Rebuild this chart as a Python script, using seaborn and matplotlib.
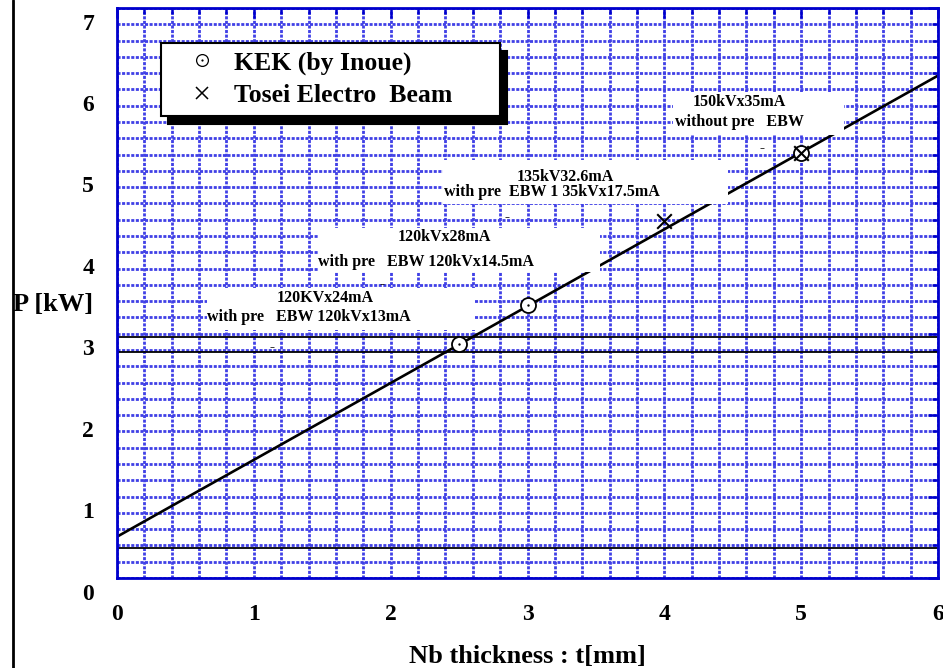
import matplotlib
matplotlib.use("Agg")
import matplotlib.pyplot as plt
import seaborn as sns
import numpy as np
import pandas as pd
from matplotlib.lines import Line2D
from matplotlib.patches import Rectangle
from matplotlib.transforms import ScaledTranslation
from matplotlib.ticker import MultipleLocator, FixedLocator
from matplotlib.legend_handler import HandlerTuple

# ---------------- data ----------------
kek_t = [2.5, 3.0, 5.0]
kek_p = [2.87, 3.35, 5.22]
tosei_t = [4.0, 5.0]
tosei_p = [4.39, 5.22]
fit_t = [0.0, 6.0]
fit_p = [0.507, 6.17]
ref_levels = [0.37, 2.78, 2.96]
x_ticks = [0, 1, 2, 3, 4, 5, 6]
y_ticks = [0, 1, 2, 3, 4, 5, 6, 7]
series_labels = ["KEK (by Inoue)", "Tosei Electro  Beam"]
note_top = ["150kVx35mA", "135kV32.6mA", "120kVx28mA", "120KVx24mA"]
note_bottom = ["without pre   EBW", "with pre  EBW 1 35kVx17.5mA",
               "with pre   EBW 120kVx14.5mA", "with pre   EBW 120kVx13mA"]

# ---------------- style ----------------
sns.set_theme(style="white")
plt.rcParams["font.family"] = ["Liberation Serif", "DejaVu Serif"]
plt.rcParams["font.weight"] = "bold"
plt.rcParams["axes.labelweight"] = "bold"
plt.rcParams["text.color"] = "black"
plt.rcParams["axes.labelcolor"] = "black"

BLUE = "#0000cc"
GRID = "#4040e6"

fig = plt.figure(figsize=(9.43, 6.68), dpi=100)
ax = fig.add_axes([117 / 943, 90 / 668, 821 / 943, 570 / 668])

ax.set_xlim(0, 6)
ax.set_ylim(0, 7)
ax.xaxis.set_major_locator(FixedLocator(x_ticks))
ax.yaxis.set_major_locator(FixedLocator(y_ticks))
ax.xaxis.set_minor_locator(MultipleLocator(0.2))
ax.yaxis.set_minor_locator(MultipleLocator(0.2))
ax.set_xticklabels([str(v) for v in x_ticks])
ax.set_yticklabels([str(v) for v in y_ticks])

ax.set_axisbelow(True)
ax.grid(True, which="both", color=GRID, linewidth=2.0,
        linestyle=(0, (1.1, 0.55)))

for s in ax.spines.values():
    s.set_color(BLUE)
    s.set_linewidth(2.0)

ax.tick_params(which="both", direction="in", color=BLUE, labelcolor="black",
               top=True, right=True, width=1.8)
ax.tick_params(which="major", length=7, labelsize=17)
ax.tick_params(which="minor", length=4.5)
ax.tick_params(axis="y", which="major", pad=16.5)
ax.tick_params(axis="x", which="major", pad=19)

# reference horizontal lines
for lv in ref_levels:
    ax.axhline(lv, color="black", linewidth=1.3, zorder=2)

# fit line
sns.lineplot(x=fit_t, y=fit_p, color="black", linewidth=1.9, ax=ax, zorder=2)

# annotation boxes (white backgrounds)
box_specs = [
    (4.06, 5.44, 5.31, 5.97),
    (2.383, 4.593, 4.465, 5.133),
    (1.469, 3.758, 3.53, 4.30),
    (0.658, 3.046, 2.616, 3.561),
]
for (x0, y0, x1, y1) in box_specs:
    ax.add_patch(Rectangle((x0, y0), x1 - x0, y1 - y0, facecolor="white",
                           edgecolor="none", zorder=2.5))

# markers
sns.scatterplot(x=kek_t, y=kek_p, marker="o", s=117, facecolor="white",
                edgecolor="black", linewidth=1.3, ax=ax, zorder=3)
sns.scatterplot(x=kek_t, y=kek_p, marker="o", s=3, color="black",
                edgecolor="black", linewidth=0, ax=ax, zorder=3.2)
sns.scatterplot(x=tosei_t, y=tosei_p, marker="x", s=110, color="black",
                linewidth=1.5, ax=ax, zorder=3.3)

# annotation texts
top_pos = [(4.546, 5.846), (3.278, 4.925), (2.390, 4.188), (1.520, 3.439)]
bot_pos = [(4.546, 5.600), (3.175, 4.740), (2.255, 3.881), (1.403, 3.205)]
for txt, (x, y) in zip(note_top, top_pos):
    ax.text(x, y, txt, ha="center", va="center", fontsize=11.5,
            fontweight="bold", color="black", zorder=4)
for txt, (x, y) in zip(note_bottom, bot_pos):
    ax.text(x, y, txt, ha="center", va="center", fontsize=11.5,
            fontweight="bold", color="black", zorder=4)
for (x, y) in [(4.714, 5.268), (2.850, 4.421), (1.937, 3.598), (1.133, 2.825)]:
    ax.text(x, y, "-", ha="center", va="center", fontsize=11,
            fontweight="bold", color="black", zorder=4)

# legend
h_circle = Line2D([], [], ls="none", marker="o", markersize=8.5,
                  markerfacecolor="white", markeredgecolor="black",
                  markeredgewidth=0.9)
h_dot = Line2D([], [], ls="none", marker="o", markersize=1.6,
               color="black", markeredgewidth=0)
h_x = Line2D([], [], ls="none", marker="x", markersize=8.5, color="black",
             markeredgewidth=1.1)
leg = ax.legend([(h_circle, h_dot), h_x], series_labels, loc="upper left",
                handler_map={tuple: HandlerTuple(ndivide=1, pad=0)},
                bbox_to_anchor=(44 / 821, 535 / 570 - 0.2, 339 / 821, 0.2),
                mode="expand", borderaxespad=0, frameon=True, fancybox=False,
                edgecolor="black", facecolor="white", framealpha=1,
                shadow={"ox": 5, "oy": -5.5, "shade": 1.0, "alpha": 1.0},
                borderpad=0.33, labelspacing=0.37, handlelength=2.5,
                handletextpad=0.0, prop={"size": 18.5, "weight": "bold"})
leg.get_frame().set_linewidth(1.5)
leg.set_zorder(5)
for t in leg.get_texts():
    t.set_color("black")

# axis labels
ax.set_xlabel("")
ax.set_ylabel("")
fig.text(527 / 943, (668 - 662.7) / 668, "Nb thickness : t[mm]", ha="center",
         va="baseline", fontsize=19, fontweight="bold", color="black")
fig.text(53 / 943, (668 - 305) / 668, "P [kW]", ha="center", va="center",
         fontsize=19, fontweight="bold", color="black")

# left black border line
fig.add_artist(Line2D([13 / 943, 13 / 943], [0, 1], color="black",
                      linewidth=2.0, transform=fig.transFigure))

# shift y tick labels downward like the reference
off = ScaledTranslation(0, -13.5 / 100, fig.dpi_scale_trans)
for lab in ax.get_yticklabels():
    lab.set_transform(lab.get_transform() + off)

fig.savefig("out.png", dpi=100)
